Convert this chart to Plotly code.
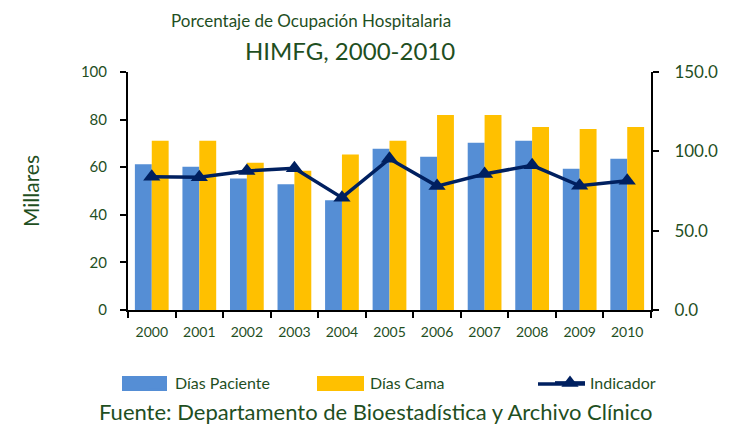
import plotly.graph_objects as go

years = ["2000", "2001", "2002", "2003", "2004", "2005", "2006", "2007", "2008", "2009", "2010"]
dias_paciente = [61.2, 60.2, 55.3, 52.8, 46.1, 67.8, 64.4, 70.3, 71.1, 59.4, 63.6]
dias_cama = [71.1, 71.1, 61.9, 58.5, 65.3, 71.1, 81.9, 81.9, 76.9, 76.1, 76.9]
indicador = [84.0, 83.6, 87.6, 89.3, 70.8, 95.3, 78.1, 85.7, 91.2, 78.3, 81.5]

GREEN = "#1f4f1f"
FONT = "Lato"
BLUE = "#558ED5"
YELLOW = "#FFC000"
NAVY = "#002060"

L, R, T, B = 128, 89, 72, 115
PW, PH = 740 - L - R, 425 - T - B


def px(x):
    return (x - L) / PW


def py(y):
    return (425 - B - y) / PH


fig = go.Figure()
fig.add_trace(go.Bar(x=years, y=dias_paciente, name="Días Paciente", legend="legend",
                     marker=dict(color=BLUE, line=dict(width=0))))
fig.add_trace(go.Bar(x=years, y=dias_cama, name="Días Cama", legend="legend2",
                     marker=dict(color=YELLOW, line=dict(width=0))))
fig.add_trace(go.Scatter(x=years, y=indicador, name="Indicador", yaxis="y2", legend="legend3",
                         mode="lines+markers",
                         line=dict(color=NAVY, width=3.5),
                         marker=dict(symbol="triangle-up", size=15, color=NAVY)))

leg_common = dict(orientation="h", yanchor="middle", xanchor="left",
                  font=dict(size=16, color=GREEN, family=FONT), bgcolor="rgba(0,0,0,0)")

fig.update_layout(
    width=740, height=425,
    margin=dict(l=L, r=R, t=T, b=B, autoexpand=False),
    paper_bgcolor="white", plot_bgcolor="white",
    barmode="group", bargap=0.29, bargroupgap=0,
    font=dict(family=FONT, color=GREEN),
    showlegend=True,
    legend=dict(x=px(135), y=py(383), **leg_common),
    legend2=dict(x=px(330), y=py(383), **leg_common),
    legend3=dict(x=px(550), y=py(383), **leg_common),
    xaxis=dict(range=[-0.5, 10.5], showline=True, linecolor="black", linewidth=2,
               ticks="outside", tickson="boundaries", ticklen=6, tickwidth=2, tickcolor="black",
               ticklabelstandoff=8,
               tickfont=dict(size=14, color=GREEN, family=FONT),
               showgrid=False, zeroline=False),
    yaxis=dict(range=[0, 100], dtick=20, showline=True, linecolor="black", linewidth=2,
               ticks="outside", ticklen=6, tickwidth=2, tickcolor="black",
               ticklabelstandoff=10,
               tickfont=dict(size=15, color=GREEN, family=FONT),
               showgrid=False, zeroline=False,
               title=dict(text="Millares", font=dict(size=21, color=GREEN, family=FONT), standoff=36)),
    yaxis2=dict(range=[0, 150], dtick=50, overlaying="y", side="right",
                tickformat=".1f", showline=True, linecolor="black", linewidth=2,
                ticks="outside", ticklen=6, tickwidth=2, tickcolor="black",
                ticklabelstandoff=12,
                tickfont=dict(size=17, color=GREEN, family=FONT),
                showgrid=False, zeroline=False),
)

# wide legend swatches like the original
fig.add_shape(type="rect", xref="paper", yref="paper", x0=px(122), x1=px(167), y0=py(391), y1=py(376),
              fillcolor=BLUE, line=dict(width=0), layer="below")
fig.add_shape(type="rect", xref="paper", yref="paper", x0=px(317), x1=px(364), y0=py(391), y1=py(376),
              fillcolor=YELLOW, line=dict(width=0), layer="below")
fig.add_shape(type="line", xref="paper", yref="paper", x0=px(538), x1=px(585), y0=py(384), y1=py(384),
              line=dict(color=NAVY, width=3.5), layer="below")

fig.add_annotation(text="Porcentaje de Ocupación Hospitalaria", xref="paper", yref="paper",
                   x=px(311), y=py(20), xanchor="center", yanchor="middle",
                   showarrow=False, font=dict(size=17, color=GREEN, family=FONT))
fig.add_annotation(text="HIMFG, 2000-2010", xref="paper", yref="paper",
                   x=px(350), y=py(50), xanchor="center", yanchor="middle",
                   showarrow=False, font=dict(size=24, color=GREEN, family=FONT))
fig.add_annotation(text="Fuente: Departamento de Bioestadística y Archivo Clínico", xref="paper", yref="paper",
                   x=px(376), y=py(411), xanchor="center", yanchor="middle",
                   showarrow=False, font=dict(size=22, color=GREEN, family=FONT))

fig.write_html("out.html", config={"displayModeBar": False},
               post_script="document.body.style.margin='0px';")
